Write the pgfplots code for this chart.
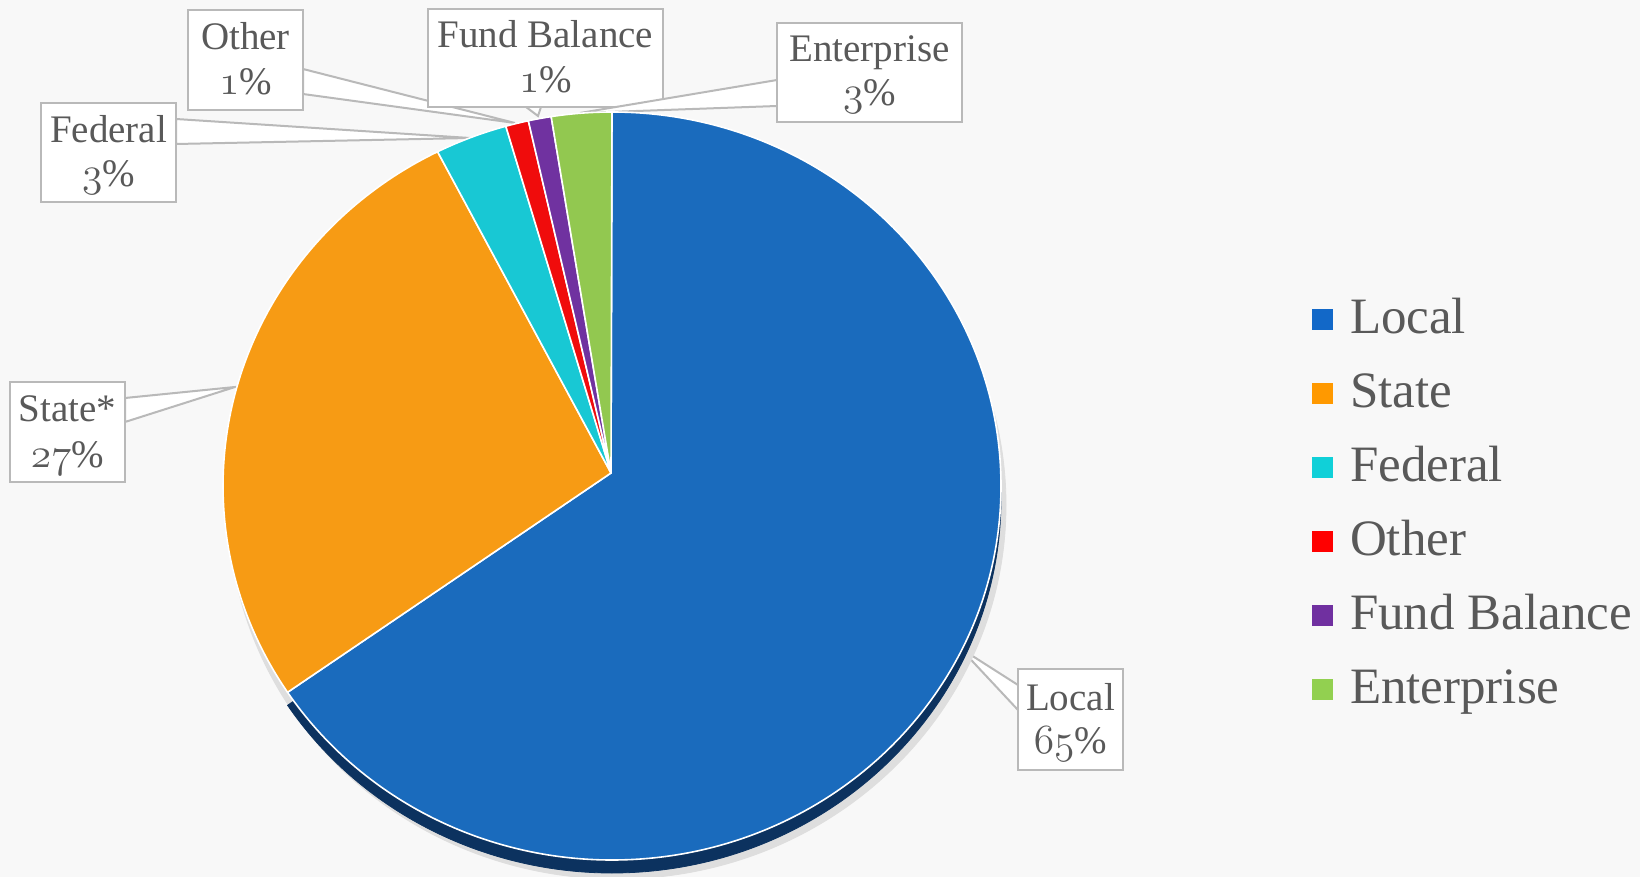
\documentclass[border=0pt]{standalone}
\usepackage{fontspec}
\setmainfont{Liberation Serif}
\usepackage{pgfplots}
\pgfplotsset{compat=1.18}
\usepackage{pgfplotstable}

\definecolor{txt}{RGB}{89,89,89}
\definecolor{callout}{RGB}{185,185,185}
\definecolor{rim}{RGB}{12,50,95}
\definecolor{bg}{RGB}{248,248,248}
% slice colours, by row
\definecolor{slice0}{RGB}{26,107,189}
\definecolor{slice1}{RGB}{247,155,20}
\definecolor{slice2}{RGB}{24,200,212}
\definecolor{slice3}{RGB}{240,12,12}
\definecolor{slice4}{RGB}{112,50,160}
\definecolor{slice5}{RGB}{146,200,80}
\definecolor{legLocal}{RGB}{18,104,200}
\definecolor{legState}{RGB}{255,153,0}
\definecolor{legFed}{RGB}{16,208,216}
\definecolor{legOther}{RGB}{255,0,0}
\definecolor{legFund}{RGB}{112,48,160}
\definecolor{legEnt}{RGB}{146,208,80}

% old style figures for the percentages
\newcommand\osn[1]{{\usefont{OML}{lmm}{m}{it}#1}}

\tikzset{
  lbl/.style={anchor=base, inner sep=0pt, text=txt, font=\fontsize{19.5}{22}\selectfont},
  box/.style={fill=white, draw=callout, line width=1pt, line join=miter},
}

% one pie slice, drawn from the apex; ellipse centre sits a bit lower (tilted pie)
\newcommand\slicepath{%
  \pgfmathsetmacro\slicesa{90-3.6*\pcum}%
  \pgfmathsetmacro\sliceea{90-3.6*(\pcum+\pval)}%
  \pgfpathmoveto{\pgfpointorigin}%
  \pgfpathlineto{\pgfpoint{0.5pt+194.5pt*cos(\slicesa)}{-6.5pt+187pt*sin(\slicesa)}}%
  \pgfpatharc{\slicesa}{\sliceea}{194.5pt and 187pt}%
  \pgfpathclose}
\pgfdeclareplotmark{pieslice}{\slicepath\pgfusepathqfillstroke}
\pgfdeclareplotmark{pieslicecol}{%
  \pgfmathtruncatemacro\sliceid{\pidx}%
  \pgfsetfillcolor{slice\sliceid}%
  \slicepath\pgfusepathqfillstroke}

\pgfplotsset{pie/.style={only marks, mark=pieslice, forget plot,
  visualization depends on={\thisrow{cum}\as\pcum},
  visualization depends on={\thisrow{value}\as\pval},
  visualization depends on={\thisrow{idx}\as\pidx}}}

% Local, State, Federal, Other, Fund Balance, Enterprise
\pgfplotstableread{
idx value cum
0   65.7  0
1   26.9  65.7
2   3.0   92.6
3   0.95  95.6
4   0.95  96.55
5   2.5   97.5
}\piedata

\begin{document}
\begin{tikzpicture}
\fill[bg] (0,0) rectangle (820pt,438.5pt);
\useasboundingbox (0,0) rectangle (820pt,438.5pt);
\begin{axis}[
  at={(0,0)}, anchor=south west,
  width=820pt, height=438.5pt, scale only axis,
  xmin=0, xmax=1640, ymin=0, ymax=877, y dir=reverse,
  hide axis, clip=false,
  legend image code/.code={\fill[#1, draw=none] (0pt,-4.25pt) rectangle (10.5pt,6.25pt);},
  legend cell align=left,
  legend style={at={(axis cs:1312,299)}, anchor=north west, draw=none, fill=none,
    inner sep=0pt, outer sep=0pt, row sep=15pt, column sep=8.5pt,
    font=\fontsize{25.5}{30}\selectfont, text=txt,
    nodes={inner sep=0pt, text height=17pt, text depth=5pt}},
]
% soft shadow and the extruded rim of the Local slice
\addplot[pie, mark options={fill=black!13, draw=black!13}] table[x expr=616, y expr=492] {\piedata};
\addplot[pie, mark options={fill=rim, draw=rim}] table[x expr=611, y expr=486,
  restrict expr to domain={\coordindex}{0:0}] {\piedata};
% the slices
\addplot[pie, mark=pieslicecol, mark options={draw=white, line width=0.8pt, line join=round}]
  table[x expr=611, y expr=473] {\piedata};

\addlegendimage{fill=legLocal}\addlegendentry{Local}
\addlegendimage{fill=legState}\addlegendentry{State}
\addlegendimage{fill=legFed}\addlegendentry{Federal}
\addlegendimage{fill=legOther}\addlegendentry{Other}
\addlegendimage{fill=legFund}\addlegendentry{Fund Balance}
\addlegendimage{fill=legEnt}\addlegendentry{Enterprise}

% callouts
\filldraw[box] (470,138) -- (176,119) -- (176,144) -- cycle;
\filldraw[box] (41,103) rectangle (176,202);
\node[lbl] at (108.5,143) {Federal};
\node[lbl] at (108.5,187) {\osn{3}\%};

\filldraw[box] (515,123) -- (303,69) -- (303,94) -- cycle;
\filldraw[box] (188,10) rectangle (303,110);
\node[lbl] at (245.5,50) {Other};
\node[lbl] at (245.5,95) {\osn{1}\%};

\filldraw[box] (538,116) -- (526,107) -- (541,107) -- cycle;
\filldraw[box] (428,9) rectangle (663,107);
\node[lbl] at (545.5,48) {Fund Balance};
\node[lbl] at (545.5,93) {\osn{1}\%};

\filldraw[box] (580,113) -- (777,80) -- (777,106) -- cycle;
\filldraw[box] (777,23) rectangle (962,122);
\node[lbl] at (869.5,62) {Enterprise};
\node[lbl] at (869.5,106) {\osn{3}\%};

\filldraw[box] (235,387) -- (125,398) -- (125,422) -- cycle;
\filldraw[box] (10,382) rectangle (125,482);
\node[lbl] at (67.5,422) {State*};
\node[lbl] at (67.5,467) {\osn{27}\%};

\filldraw[box] (960,648) -- (1018,685) -- (1018,710) -- cycle;
\filldraw[box] (1018,669) rectangle (1123,770);
\node[lbl] at (1070.5,710) {Local};
\node[lbl] at (1070.5,753) {\osn{65}\%};
\end{axis}
\end{tikzpicture}
\end{document}
